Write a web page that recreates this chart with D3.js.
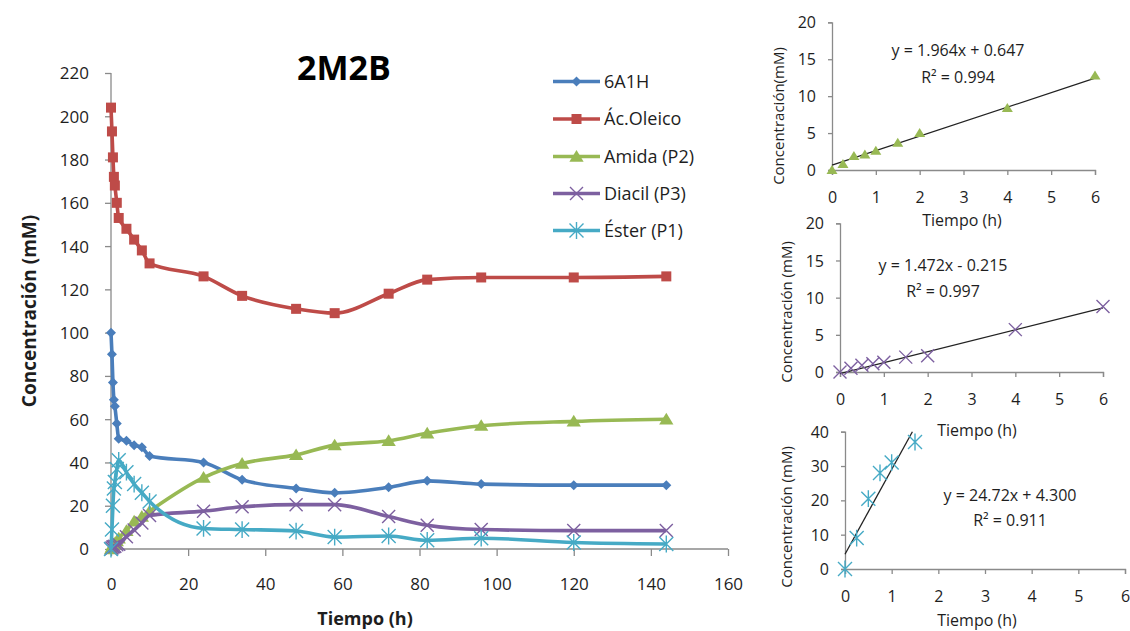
<!DOCTYPE html>
<html><head><meta charset="utf-8">
<script src="https://cdn.jsdelivr.net/npm/d3@7"></script>
<style>
html,body{margin:0;padding:0;background:#fff;}
svg{display:block;font-family:"Open Sans",sans-serif;}
</style></head>
<body><svg id="c" width="1130" height="631"></svg>
<script>
// ---------- data ----------
const times = [0, 0.25, 0.5, 0.75, 1, 1.5, 2, 4, 6, 8, 10, 24, 34, 48, 58, 72, 82, 96, 120, 144];
const s6A1H  = [100, 90, 77, 69, 66, 58, 51, 50, 48, 47, 43, 40, 32, 28, 26, 28.5, 31.5, 30, 29.5, 29.5];
const sOleico = [204, 193, 181, 172, 168, 160, 153, 148, 143, 138, 132, 126, 117, 111, 109, 118, 124.5, 125.5, 125.5, 126];
const sAmida = [0, 0.8, 1.9, 2.1, 2.6, 3.7, 5.0, 8.4, 12.8, 15, 17.5, 33, 39.5, 43.5, 48, 50, 53.5, 57, 59, 60];
const sDiacil = [0, 0.5, 0.9, 1.1, 1.3, 2.0, 2.2, 5.7, 8.8, 12, 15.5, 17.5, 19.5, 20.5, 20.5, 15, 11, 9, 8.5, 8.5];
const sEster = [0, 9, 20, 28, 31, 37, 41, 35.5, 30, 26, 22, 9.5, 9, 8.3, 5.5, 6, 4, 5, 3, 2.3];
const seriesNames = ["6A1H", "Ác.Oleico", "Amida (P2)", "Diacil (P3)", "Éster (P1)"];
const mainXTicks = [0, 20, 40, 60, 80, 100, 120, 140, 160];
const mainYTicks = [0, 20, 40, 60, 80, 100, 120, 140, 160, 180, 200, 220];

const insetTimes = [0, 0.25, 0.5, 0.75, 1, 1.5, 2, 4, 6];
const insetAmida = [0, 0.8, 1.9, 2.1, 2.6, 3.7, 5.0, 8.4, 12.8];
const insetDiacil = [0, 0.5, 0.9, 1.1, 1.3, 2.0, 2.2, 5.7, 8.8];
const insetEsterTimes = [0, 0.25, 0.5, 0.75, 1, 1.5];
const insetEster = [0, 9, 20.5, 28, 31, 37];
const fitSlopes = [1.964, 1.472, 24.72];
const fitIntercepts = [0.647, -0.215, 4.300];
const fitEquations = ["y = 1.964x + 0.647", "y = 1.472x - 0.215", "y = 24.72x + 4.300"];
const fitR2 = ["R² = 0.994", "R² = 0.997", "R² = 0.911"];
const insetXTicks = [0, 1, 2, 3, 4, 5, 6];
const insetYTicks12 = [0, 5, 10, 15, 20];
const insetYTicks3 = [0, 10, 20, 30, 40];

// ---------- style ----------
const colors = ["#4A7EBB", "#BE4B48", "#98B954", "#7D60A0", "#46AAC5"];
const markers = ["diamond", "square", "triangle", "x", "asterisk"];
const axisColor = "#8a8a8a";
const textColor = "#1e1e1e";
const intFmt = d3.format("d");

const svg = d3.select("#c");
svg.append("rect").attr("width", 1130).attr("height", 631).attr("fill", "#fff");

function drawMarker(g, type, cx, cy, size, color) {
  const h = size / 2;
  if (type === "diamond") {
    g.append("path").attr("d", `M${cx},${cy-h}L${cx+h},${cy}L${cx},${cy+h}L${cx-h},${cy}Z`).attr("fill", color);
  } else if (type === "square") {
    g.append("rect").attr("x", cx-h).attr("y", cy-h).attr("width", size).attr("height", size).attr("fill", color);
  } else if (type === "triangle") {
    g.append("path").attr("d", `M${cx},${cy-h}L${cx+h*1.1},${cy+h*0.8}L${cx-h*1.1},${cy+h*0.8}Z`).attr("fill", color);
  } else if (type === "x") {
    g.append("path").attr("d", `M${cx-h},${cy-h}L${cx+h},${cy+h}M${cx-h},${cy+h}L${cx+h},${cy-h}`)
      .attr("stroke", color).attr("stroke-width", 1.4).attr("fill", "none");
  } else if (type === "asterisk") {
    g.append("path").attr("d", `M${cx-h},${cy-h}L${cx+h},${cy+h}M${cx-h},${cy+h}L${cx+h},${cy-h}M${cx},${cy-h*1.2}L${cx},${cy+h*1.2}`)
      .attr("stroke", color).attr("stroke-width", 1.4).attr("fill", "none");
  }
}

// ---------- main chart ----------
const x = d3.scaleLinear().domain([0, 160]).range([111, 728]);
const y = d3.scaleLinear().domain([0, 220]).range([549, 73]);

const xAxis = d3.axisBottom(x).tickValues(mainXTicks).tickFormat(intFmt).tickSize(7).tickPadding(22);
const yAxis = d3.axisLeft(y).tickValues(mainYTicks).tickFormat(intFmt).tickSize(6).tickPadding(16);

function styleAxis(g, fs) {
  g.select(".domain").attr("stroke", axisColor).attr("stroke-width", 1.3);
  g.selectAll(".tick line").attr("stroke", axisColor).attr("stroke-width", 1.3);
  g.selectAll(".tick text").attr("fill", textColor).style("font-size", fs + "px")
    .style("font-family", "'Open Sans',sans-serif");
}
const gx = svg.append("g").attr("transform", "translate(0,549)").call(xAxis);
gx.select(".domain").attr("d", `M${x(0)},0H${x(160)}`);
styleAxis(gx, 17);
const gy = svg.append("g").attr("transform", `translate(${x(0)},0)`).call(yAxis);
gy.select(".domain").attr("d", `M0,${y(220)}V${y(0)}`);
styleAxis(gy, 17);
gy.selectAll(".tick text").attr("dy", "0.35em");

const allSeries = [s6A1H, sOleico, sAmida, sDiacil, sEster];
const line = d3.line().x(d => x(d[0])).y(d => y(d[1])).curve(d3.curveMonotoneX);
const markerSizes = [10, 10, 13, 13, 14];

allSeries.forEach((vals, i) => {
  const pts = times.map((t, k) => [t, vals[k]]);
  const g = svg.append("g");
  g.append("path").attr("d", line(pts)).attr("fill", "none").attr("stroke", colors[i])
    .attr("stroke-width", 3.6).attr("stroke-linejoin", "round");
  pts.forEach(p => drawMarker(g, markers[i], x(p[0]), y(p[1]), markerSizes[i], colors[i]));
});

// title and axis titles
svg.append("text").attr("x", 344).attr("y", 80).attr("text-anchor", "middle")
  .style("font-size", "34px").style("font-weight", "bold").attr("fill", "#000").text("2M2B");
svg.append("text").attr("x", 365).attr("y", 625).attr("text-anchor", "middle")
  .style("font-size", "18px").style("font-weight", "bold").attr("fill", textColor).text("Tiempo (h)");
svg.append("text").attr("transform", "translate(36,311) rotate(-90)").attr("text-anchor", "middle")
  .style("font-size", "19px").style("font-weight", "bold").attr("fill", textColor).text("Concentración (mM)");

// legend
const legRows = [81.5, 119, 156.5, 193.5, 230.5];
seriesNames.forEach((name, i) => {
  const g = svg.append("g");
  g.append("line").attr("x1", 553).attr("x2", 600).attr("y1", legRows[i]).attr("y2", legRows[i])
    .attr("stroke", colors[i]).attr("stroke-width", 3.6);
  drawMarker(g, markers[i], 576.5, legRows[i], markerSizes[i], colors[i]);
  g.append("text").attr("x", 604).attr("y", legRows[i]).attr("dy", "0.35em")
    .style("font-size", "18px").attr("fill", textColor).text(name);
});

// ---------- insets ----------
const insets = [
  {xr: [832, 1095], yr: [170, 22.3], yd: [0, 20], yt: insetYTicks12, t: insetTimes, v: insetAmida, ci: 2, ms: 10,
   ylab: "Concentración(mM)", ylx: 784, yly: 116, eqx: 958, eqy: 56, r2y: 83, tx: 962, ty: 226, fitEnd: 6},
  {xr: [840, 1103], yr: [372, 223.3], yd: [0, 20], yt: insetYTicks12, t: insetTimes, v: insetDiacil, ci: 3, ms: 13,
   ylab: "Concentración (mM)", ylx: 792, yly: 312, eqx: 943, eqy: 271, r2y: 297, tx: 977, ty: 436, fitEnd: 6},
  {xr: [845, 1125], yr: [569, 431.7], yd: [0, 40], yt: insetYTicks3, t: insetEsterTimes, v: insetEster, ci: 4, ms: 14,
   ylab: "Concentración (mM)", ylx: 792, yly: 517, eqx: 1010, eqy: 501, r2y: 526, tx: 977, ty: 626, fitEnd: null}
];

insets.forEach((ins, k) => {
  const ix = d3.scaleLinear().domain([0, 6]).range(ins.xr);
  const iy = d3.scaleLinear().domain(ins.yd).range(ins.yr);
  const ax = svg.append("g").attr("transform", `translate(0,${ins.yr[0]})`)
    .call(d3.axisBottom(ix).tickValues(insetXTicks).tickFormat(intFmt).tickSize(5).tickPadding(17));
  styleAxis(ax, 16);
  const ay = svg.append("g").attr("transform", `translate(${ins.xr[0]},0)`)
    .call(d3.axisLeft(iy).tickValues(ins.yt).tickFormat(intFmt).tickSize(4).tickPadding(12));
  styleAxis(ay, 16);
  ay.selectAll(".tick text").attr("dy", "0.35em");

  // trendline
  const m = fitSlopes[k], b = fitIntercepts[k];
  const xEnd = ins.fitEnd !== null ? ins.fitEnd : (ins.yd[1] - b) / m;
  svg.append("line").attr("x1", ix(0)).attr("y1", iy(b)).attr("x2", ix(xEnd)).attr("y2", iy(m * xEnd + b))
    .attr("stroke", "#222").attr("stroke-width", 1.3);

  const g = svg.append("g");
  ins.t.forEach((t, j) => drawMarker(g, markers[ins.ci], ix(t), iy(ins.v[j]), ins.ms, colors[ins.ci]));

  svg.append("text").attr("x", ins.eqx).attr("y", ins.eqy).attr("text-anchor", "middle")
    .style("font-size", "16px").attr("fill", textColor).text(fitEquations[k]);
  svg.append("text").attr("x", ins.eqx).attr("y", ins.r2y).attr("text-anchor", "middle")
    .style("font-size", "16px").attr("fill", textColor).text(fitR2[k]);
  svg.append("text").attr("x", ins.tx).attr("y", ins.ty).attr("text-anchor", "middle")
    .style("font-size", "16px").attr("fill", textColor).text("Tiempo (h)");
  svg.append("text").attr("transform", `translate(${ins.ylx},${ins.yly}) rotate(-90)`).attr("text-anchor", "middle")
    .style("font-size", "15px").attr("fill", textColor).text(ins.ylab);
});
</script></body></html>
